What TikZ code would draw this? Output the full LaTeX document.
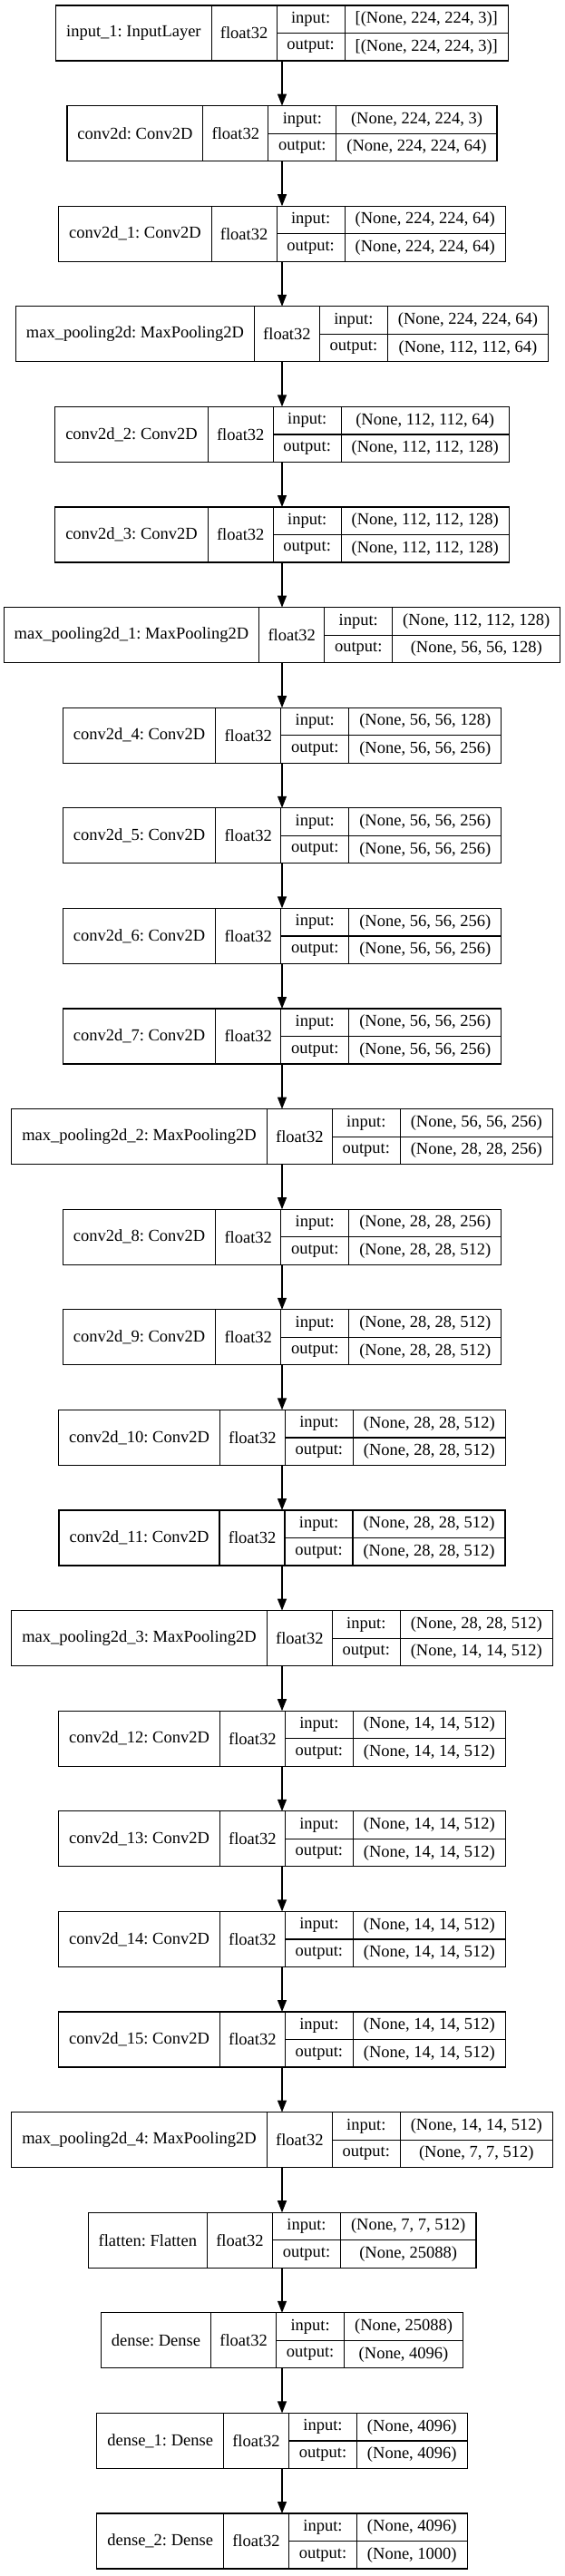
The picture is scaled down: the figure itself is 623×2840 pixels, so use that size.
\documentclass[tikz,border=0pt]{standalone}
\usepackage{fontspec}
\setmainfont{Liberation Serif}
\usetikzlibrary{positioning,fit,arrows.meta}

\newlength\namew
\newlength\shapew
\newlength\shapewb
\newcommand\cellfont{\fontsize{18.5}{22}\selectfont\frenchspacing}

% one layer of the model: node name, row, label, input shape, output shape
\newcommand\layer[5]{%
  \pgfinterruptpicture
  \settowidth\shapew{\cellfont #4}\settowidth\shapewb{\cellfont #5}%
  \ifdim\shapewb>\shapew\setlength\shapew{\shapewb}\fi
  \global\shapew=\shapew
  \settowidth\namew{\cellfont #3}\global\namew=\namew
  \endpgfinterruptpicture
  \addtolength\namew{23pt}\addtolength\shapew{23pt}%
  \pgfmathsetmacro\leftx{311-(\namew+\shapew+147pt)/2}%
  \pgfmathsetmacro\topy{6+110.6*#2}%
  \node[cell, minimum width=\namew, minimum height=61pt, anchor=north west] (#1-name) at (\leftx,-\topy) {#3};
  \node[cell, minimum width=72pt, minimum height=61pt, right=0pt of #1-name] (#1-type) {float32};
  \node[cell, minimum width=75pt, anchor=north west] (#1-in) at (#1-type.north east) {input:};
  \node[cell, minimum width=75pt, anchor=north west] (#1-out) at (#1-in.south west) {output:};
  \node[cell, minimum width=\shapew, anchor=north west] (#1-ins) at (#1-in.north east) {#4};
  \node[cell, minimum width=\shapew, anchor=north west] (#1-outs) at (#1-ins.south west) {#5};
  \node[fit=(#1-name)(#1-outs), inner sep=0pt, outer sep=0pt] (#1) {};
}

\begin{document}
\begin{tikzpicture}[x=1pt, y=1pt,
  cell/.style={draw, font=\cellfont, line width=1.2pt, inner sep=0pt, outer sep=0pt, minimum height=30.5pt},
  flow/.style={-{Triangle[length=13pt,width=10pt]}, line width=1.2pt}]
\useasboundingbox (0,0) rectangle (623,-2840);

\layer{input1}{0}{input\_1: InputLayer}{[(None, 224, 224, 3)]}{[(None, 224, 224, 3)]}
\layer{conv0}{1}{conv2d: Conv2D}{(None, 224, 224, 3)}{(None, 224, 224, 64)}
\layer{conv1}{2}{conv2d\_1: Conv2D}{(None, 224, 224, 64)}{(None, 224, 224, 64)}
\layer{pool0}{3}{max\_pooling2d: MaxPooling2D}{(None, 224, 224, 64)}{(None, 112, 112, 64)}
\layer{conv2}{4}{conv2d\_2: Conv2D}{(None, 112, 112, 64)}{(None, 112, 112, 128)}
\layer{conv3}{5}{conv2d\_3: Conv2D}{(None, 112, 112, 128)}{(None, 112, 112, 128)}
\layer{pool1}{6}{max\_pooling2d\_1: MaxPooling2D}{(None, 112, 112, 128)}{(None, 56, 56, 128)}
\layer{conv4}{7}{conv2d\_4: Conv2D}{(None, 56, 56, 128)}{(None, 56, 56, 256)}
\layer{conv5}{8}{conv2d\_5: Conv2D}{(None, 56, 56, 256)}{(None, 56, 56, 256)}
\layer{conv6}{9}{conv2d\_6: Conv2D}{(None, 56, 56, 256)}{(None, 56, 56, 256)}
\layer{conv7}{10}{conv2d\_7: Conv2D}{(None, 56, 56, 256)}{(None, 56, 56, 256)}
\layer{pool2}{11}{max\_pooling2d\_2: MaxPooling2D}{(None, 56, 56, 256)}{(None, 28, 28, 256)}
\layer{conv8}{12}{conv2d\_8: Conv2D}{(None, 28, 28, 256)}{(None, 28, 28, 512)}
\layer{conv9}{13}{conv2d\_9: Conv2D}{(None, 28, 28, 512)}{(None, 28, 28, 512)}
\layer{conv10}{14}{conv2d\_10: Conv2D}{(None, 28, 28, 512)}{(None, 28, 28, 512)}
\layer{conv11}{15}{conv2d\_11: Conv2D}{(None, 28, 28, 512)}{(None, 28, 28, 512)}
\layer{pool3}{16}{max\_pooling2d\_3: MaxPooling2D}{(None, 28, 28, 512)}{(None, 14, 14, 512)}
\layer{conv12}{17}{conv2d\_12: Conv2D}{(None, 14, 14, 512)}{(None, 14, 14, 512)}
\layer{conv13}{18}{conv2d\_13: Conv2D}{(None, 14, 14, 512)}{(None, 14, 14, 512)}
\layer{conv14}{19}{conv2d\_14: Conv2D}{(None, 14, 14, 512)}{(None, 14, 14, 512)}
\layer{conv15}{20}{conv2d\_15: Conv2D}{(None, 14, 14, 512)}{(None, 14, 14, 512)}
\layer{pool4}{21}{max\_pooling2d\_4: MaxPooling2D}{(None, 14, 14, 512)}{(None, 7, 7, 512)}
\layer{flat}{22}{flatten: Flatten}{(None, 7, 7, 512)}{(None, 25088)}
\layer{dense0}{23}{dense: Dense}{(None, 25088)}{(None, 4096)}
\layer{dense1}{24}{dense\_1: Dense}{(None, 4096)}{(None, 4096)}
\layer{dense2}{25}{dense\_2: Dense}{(None, 4096)}{(None, 1000)}

% % % % % % % % % % % % % % % % % % % % % % % % % %

\draw [flow] (input1.south) -- (conv0.north);
\draw [flow] (conv0.south) -- (conv1.north);
\draw [flow] (conv1.south) -- (pool0.north);
\draw [flow] (pool0.south) -- (conv2.north);
\draw [flow] (conv2.south) -- (conv3.north);
\draw [flow] (conv3.south) -- (pool1.north);
\draw [flow] (pool1.south) -- (conv4.north);
\draw [flow] (conv4.south) -- (conv5.north);
\draw [flow] (conv5.south) -- (conv6.north);
\draw [flow] (conv6.south) -- (conv7.north);
\draw [flow] (conv7.south) -- (pool2.north);
\draw [flow] (pool2.south) -- (conv8.north);
\draw [flow] (conv8.south) -- (conv9.north);
\draw [flow] (conv9.south) -- (conv10.north);
\draw [flow] (conv10.south) -- (conv11.north);
\draw [flow] (conv11.south) -- (pool3.north);
\draw [flow] (pool3.south) -- (conv12.north);
\draw [flow] (conv12.south) -- (conv13.north);
\draw [flow] (conv13.south) -- (conv14.north);
\draw [flow] (conv14.south) -- (conv15.north);
\draw [flow] (conv15.south) -- (pool4.north);
\draw [flow] (pool4.south) -- (flat.north);
\draw [flow] (flat.south) -- (dense0.north);
\draw [flow] (dense0.south) -- (dense1.north);
\draw [flow] (dense1.south) -- (dense2.north);
\end{tikzpicture}
\end{document}
